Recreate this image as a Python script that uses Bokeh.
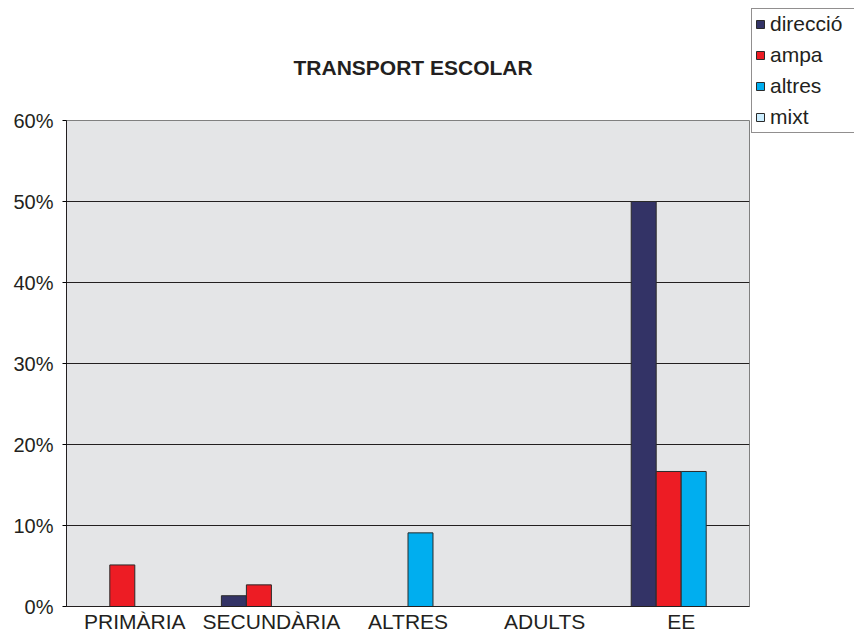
from bokeh.plotting import figure
from bokeh.models import (ColumnDataSource, FactorRange, Range1d, NumeralTickFormatter,
                          Legend, LegendItem, FixedTicker)
from bokeh.transform import dodge
from bokeh.embed import file_html
from bokeh.resources import INLINE

categories = ["PRIMÀRIA", "SECUNDÀRIA", "ALTRES", "ADULTS", "EE"]
direccio = [0.0, 0.0133, 0.0, 0.0, 0.50]
ampa = [0.0513, 0.0267, 0.0, 0.0, 0.1667]
altres = [0.0, 0.0, 0.0909, 0.0, 0.1667]
mixt = [0.0, 0.0, 0.0, 0.0, 0.0]
series_names = ["direcció", "ampa", "altres", "mixt"]
series_keys = ["direccio", "ampa", "altres", "mixt"]
colors = ["#333366", "#ED1C24", "#00AEEF", "#CCEEFF"]
y_ticks = [0.0, 0.1, 0.2, 0.3, 0.4, 0.5, 0.6]
grid_ticks = [0.1, 0.2, 0.3, 0.4, 0.5]
title_text = "TRANSPORT ESCOLAR"

FONT = "Liberation Sans"

source = ColumnDataSource(dict(cat=categories, direccio=direccio, ampa=ampa,
                               altres=altres, mixt=mixt))

p = figure(x_range=FactorRange(*categories), y_range=Range1d(0, 0.6),
           frame_width=683, frame_height=486,
           min_border_left=66, min_border_right=105, min_border_top=120, min_border_bottom=0,
           output_backend="svg", toolbar_location=None)

bw = 0.183
offsets = [-1.5 * bw, -0.5 * bw, 0.5 * bw, 1.5 * bw]
renderers = []
for key, off, col in zip(series_keys, offsets, colors):
    r = p.vbar(x=dodge("cat", off, range=p.x_range), top=key, width=bw, source=source,
               fill_color=col, line_color="#2a2a2a", line_width=1)
    renderers.append(r)

p.background_fill_color = "#E4E5E7"
p.border_fill_color = "white"
p.outline_line_color = "#808080"

p.xgrid.grid_line_color = None
p.ygrid.ticker = FixedTicker(ticks=grid_ticks)
p.ygrid.grid_line_color = "#231F20"
p.ygrid.grid_line_width = 1

p.yaxis.ticker = FixedTicker(ticks=y_ticks)
p.yaxis.formatter = NumeralTickFormatter(format="0%")
p.yaxis.major_label_text_font = FONT
p.yaxis.major_label_text_font_size = "20px"
p.yaxis.major_label_text_color = "#231F20"
p.yaxis.major_tick_out = 4
p.yaxis.major_tick_in = 0
p.yaxis.minor_tick_line_color = None
p.yaxis.major_label_standoff = 9
p.yaxis.axis_line_color = "#231F20"

p.xaxis.major_label_text_font = FONT
p.xaxis.major_label_text_font_size = "21px"
p.xaxis.major_label_text_color = "#231F20"
p.xaxis.major_tick_line_color = None
p.xaxis.major_tick_out = 0
p.xaxis.major_label_standoff = 3
p.xaxis.axis_line_color = "#231F20"

p.title.text = title_text
p.title.align = "left"
p.title.text_font = FONT
p.title.text_font_size = "21px"
p.title.text_font_style = "bold"
p.title.text_color = "#231F20"
p.title.offset = 227
p.title.standoff = 84

legend = Legend(items=[LegendItem(label=n, renderers=[r]) for n, r in zip(series_names, renderers)],
                location=(2, 473))
legend.border_line_color = "#231F20"
legend.border_line_width = 1
legend.background_fill_color = "white"
legend.background_fill_alpha = 1
legend.label_text_font = FONT
legend.label_text_font_size = "21px"
legend.label_text_color = "#231F20"
legend.glyph_width = 10
legend.glyph_height = 10
legend.label_standoff = 5
legend.label_height = 24
legend.label_width = 90
legend.padding = 3
legend.spacing = 7
legend.margin = 0
p.add_layout(legend, "right")

open("out.html", "w").write(file_html(p, INLINE))
